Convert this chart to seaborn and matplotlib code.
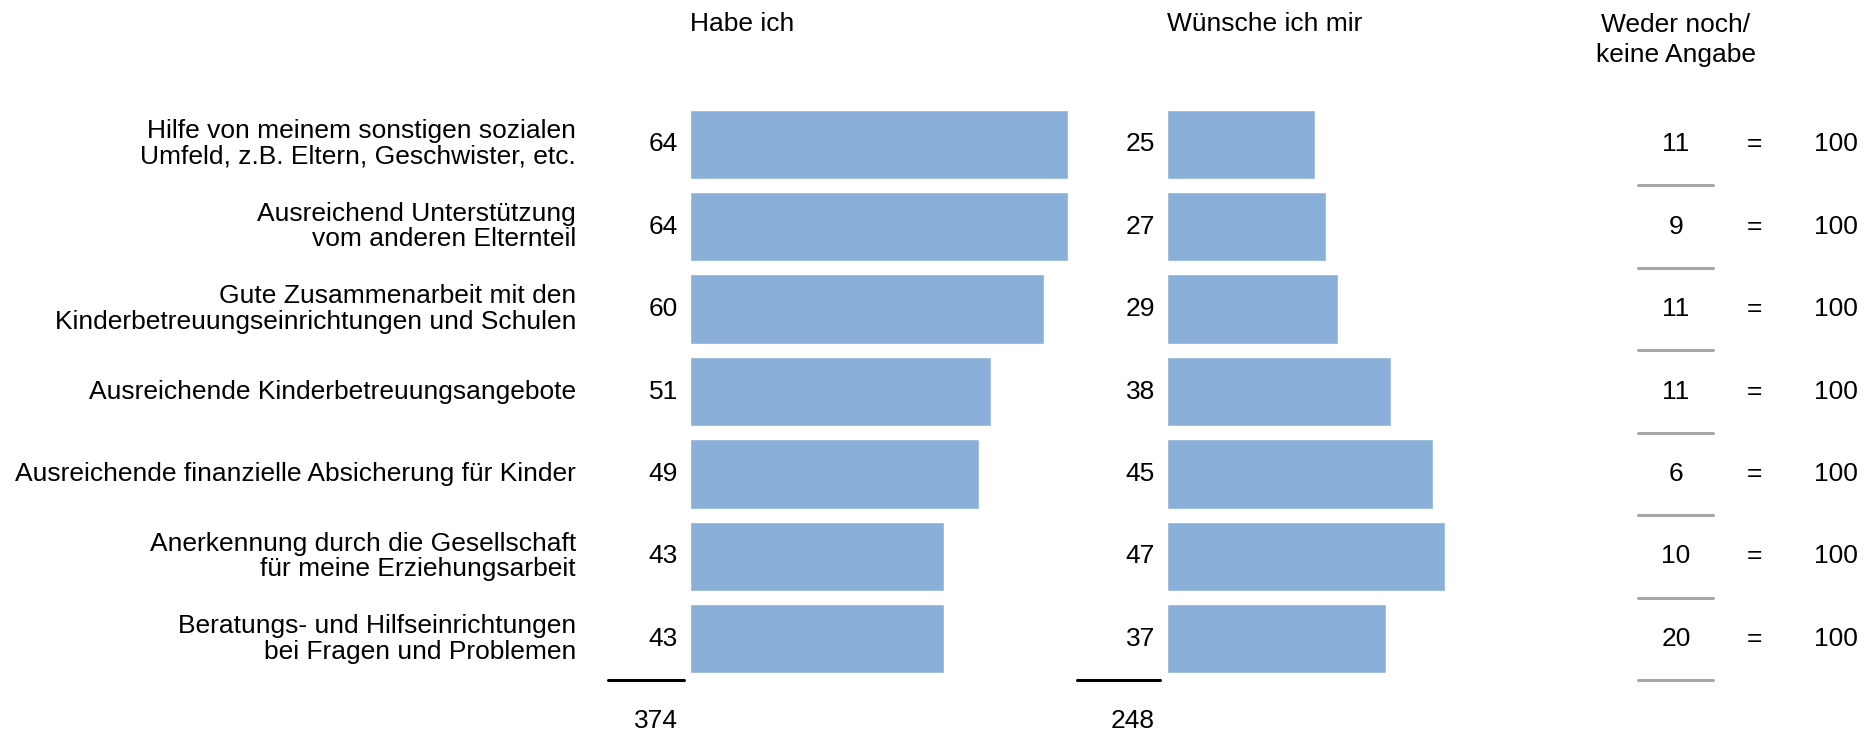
import numpy as np
import pandas as pd
import matplotlib.pyplot as plt
import matplotlib.transforms as mtransforms
import seaborn as sns

# Daten
kategorien = [
    "Hilfe von meinem sonstigen sozialen\nUmfeld, z.B. Eltern, Geschwister, etc.",
    "Ausreichend Unterstützung\nvom anderen Elternteil",
    "Gute Zusammenarbeit mit den\nKinderbetreuungseinrichtungen und Schulen",
    "Ausreichende Kinderbetreuungsangebote",
    "Ausreichende finanzielle Absicherung für Kinder",
    "Anerkennung durch die Gesellschaft\nfür meine Erziehungsarbeit",
    "Beratungs- und Hilfseinrichtungen\nbei Fragen und Problemen",
]
habe_ich = [64, 64, 60, 51, 49, 43, 43]
wuensche = [25, 27, 29, 38, 45, 47, 37]
weder = [11, 9, 11, 11, 6, 10, 20]
summe = [100, 100, 100, 100, 100, 100, 100]
spalten = ["Habe ich", "Wünsche ich mir", "Weder noch/\nkeine Angabe"]

df = pd.DataFrame({"Kategorie": kategorien, "Habe": habe_ich, "Wunsch": wuensche,
                   "Weder": weder, "Summe": summe})

sns.set_style("white")
plt.rcParams["font.family"] = ["Liberation Sans", "DejaVu Sans"]
plt.rcParams["text.color"] = "black"
FS = 19
BLAU = "#8AAFD8"
GRAU = "#A6A6A6"

W, H = 1871, 735
fig = plt.figure(figsize=(W / 100, H / 100), dpi=100)

def px_box(x0, x1, y0, y1):
    return [x0 / W, 1 - y1 / H, (x1 - x0) / W, (y1 - y0) / H]

ax1 = fig.add_axes(px_box(690, 1068, 103, 680))
ax2 = fig.add_axes(px_box(1167, 1545, 103, 680))

for ax, spalte in [(ax1, "Habe"), (ax2, "Wunsch")]:
    sns.barplot(data=df, x=spalte, y="Kategorie", order=kategorien, color=BLAU,
                width=0.84, saturation=1, ax=ax)
    ax.set_xlim(0, 64)
    ax.set_ylim(6.5, -0.5)
    ax.axis("off")

tr = mtransforms.blended_transform_factory(fig.transFigure, ax1.transData)

def fx(px):
    return px / W

for i, row in df.iterrows():
    fig.text(fx(576), i, row["Kategorie"], transform=tr, ha="right", va="center",
             fontsize=FS, linespacing=1.08)
    fig.text(fx(678), i, str(row["Habe"]), transform=tr, ha="right", va="center", fontsize=FS)
    fig.text(fx(1155), i, str(row["Wunsch"]), transform=tr, ha="right", va="center", fontsize=FS)
    fig.text(fx(1676), i, str(row["Weder"]), transform=tr, ha="center", va="center", fontsize=FS)
    fig.text(fx(1754), i, "=", transform=tr, ha="center", va="center", fontsize=FS)
    fig.text(fx(1858), i, str(row["Summe"]), transform=tr, ha="right", va="center", fontsize=FS)
    # graue Trennlinie
    fig.add_artist(plt.Line2D([fx(1638), fx(1713)], [i + 0.5, i + 0.5], transform=tr,
                              color=GRAU, lw=2.2))

# Summenlinien und Summen
n = len(kategorien)
for x0, x1, xt, total in [(608, 684, 678, sum(habe_ich)), (1077, 1160, 1155, sum(wuensche))]:
    fig.add_artist(plt.Line2D([fx(x0), fx(x1)], [n - 0.5, n - 0.5], transform=tr,
                              color="black", lw=2.2))
    fig.text(fx(xt), n, str(total), transform=tr, ha="right", va="center", fontsize=FS)

# Spaltenüberschriften
fig.text(fx(690), 1 - 24 / H, spalten[0], ha="left", va="center", fontsize=FS)
fig.text(fx(1167), 1 - 24 / H, spalten[1], ha="left", va="center", fontsize=FS)
fig.text(fx(1676), 1 - 40 / H, spalten[2], ha="center", va="center", fontsize=FS,
         linespacing=1.28)

plt.savefig("out.png", dpi=100)
plt.close()
